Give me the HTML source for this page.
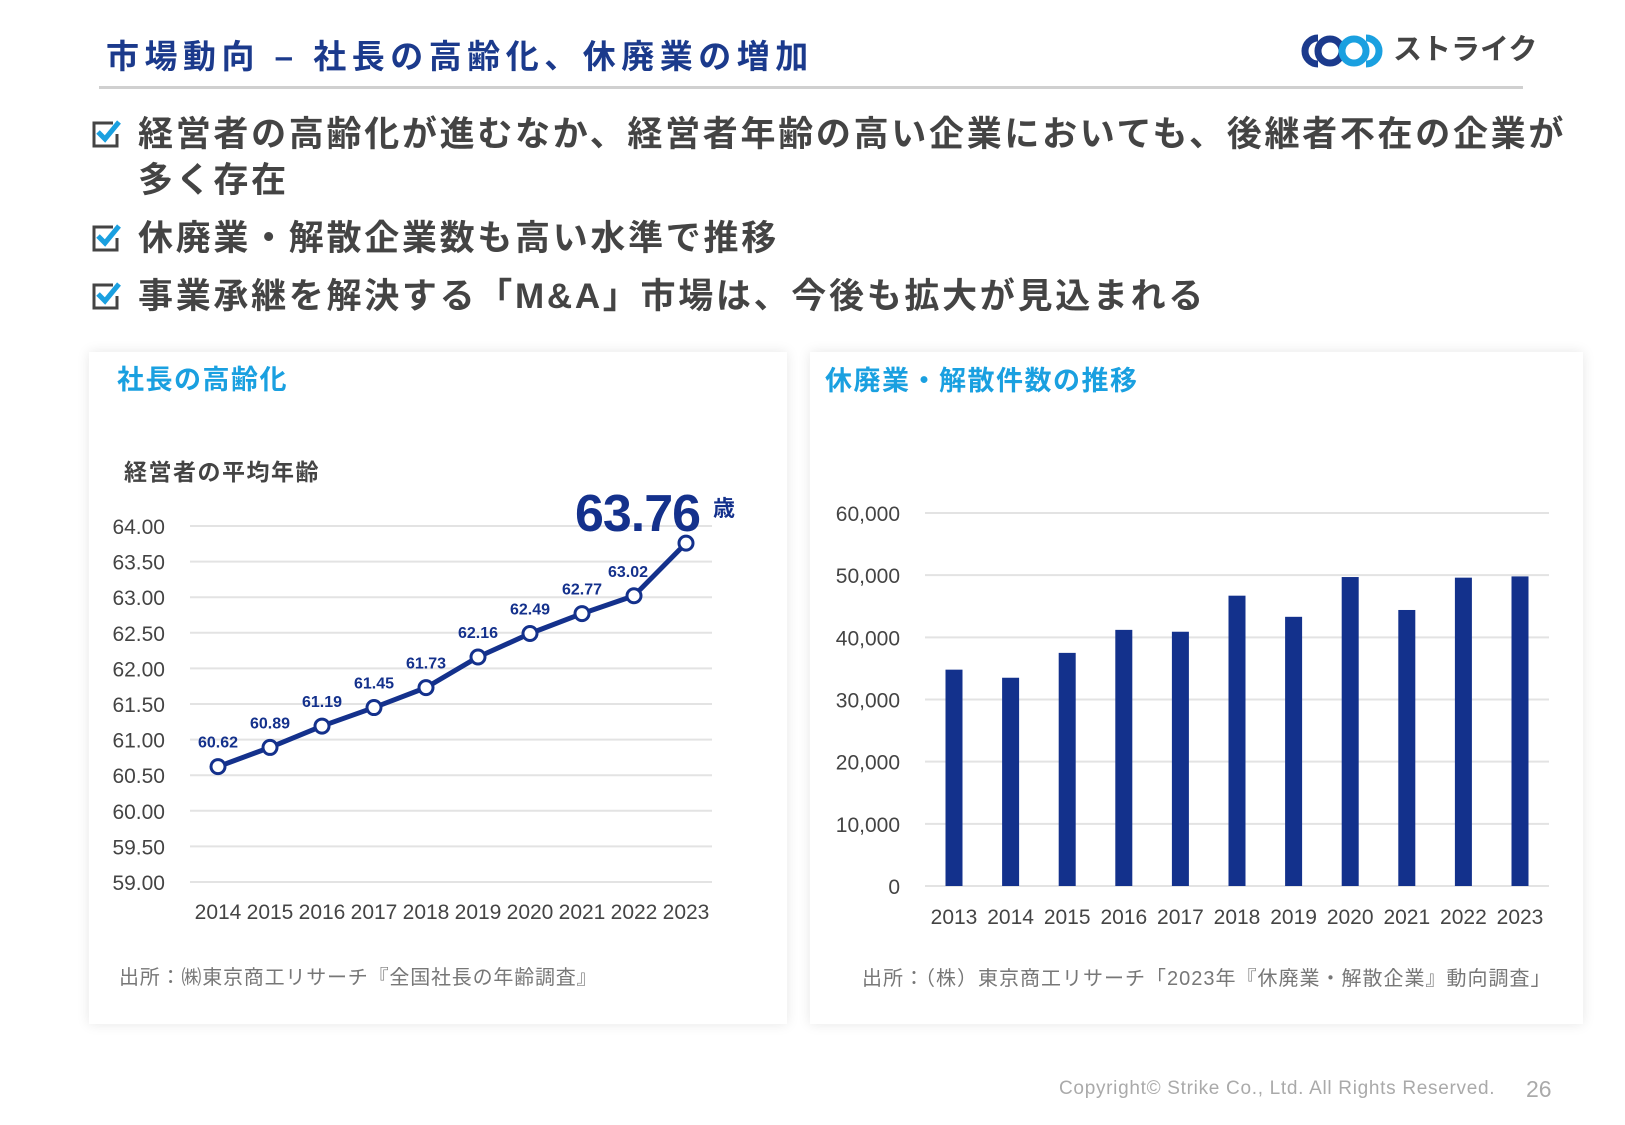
<!DOCTYPE html>
<html lang="ja"><head><meta charset="utf-8">
<style>
*{margin:0;padding:0;box-sizing:border-box}
body{width:1625px;height:1125px;background:#fff;position:relative;overflow:hidden;font-family:"Liberation Sans","Noto Sans CJK JP",sans-serif}
.abs{position:absolute;white-space:nowrap}
.card{position:absolute;background:#fff;box-shadow:0 0 12px rgba(0,0,0,0.10)}
.bul{position:absolute;left:138px;font-size:35px;font-weight:700;color:#444;line-height:46px;letter-spacing:2.7px}
.chk{position:absolute;left:91px;width:30px;height:30px}
</style></head><body>
<div class="abs" style="left:106px;top:35px;font-size:33px;font-weight:700;color:#1b3a8c;line-height:44px;letter-spacing:5.5px">市場動向 – 社長の高齢化、休廃業の増加</div>
<div class="abs" style="left:99px;top:86px;width:1424px;height:3px;background:#d0d0d0"></div>
<svg class="abs" style="left:1296px;top:32px" width="90" height="38" viewBox="0 0 90 38">
<path d="M22 6 A13 13 0 1 0 22 32" fill="none" stroke="#1b3a8c" stroke-width="7"/>
<circle cx="34" cy="19" r="12" fill="none" stroke="#1b3a8c" stroke-width="7"/>
<circle cx="58" cy="19" r="12" fill="none" stroke="#1aa0e0" stroke-width="7"/>
<path d="M70 6 A13 13 0 1 1 70 32" fill="none" stroke="#1aa0e0" stroke-width="7"/>
</svg>
<div class="abs" style="left:1393px;top:31px;font-size:29px;font-weight:700;color:#444;line-height:38px">ストライク</div>

<svg class="chk" style="top:119px" viewBox="0 0 30 30"><path d="M22 4H3V27H26V15" fill="none" stroke="#444" stroke-width="3"/><path d="M7 13L14 20L28 3" fill="none" stroke="#1aa0e0" stroke-width="5"/></svg>
<div class="bul" style="top:112px">経営者の高齢化が進むなか、経営者年齢の高い企業においても、後継者不在の企業が<br>多く存在</div>
<svg class="chk" style="top:223px" viewBox="0 0 30 30"><path d="M22 4H3V27H26V15" fill="none" stroke="#444" stroke-width="3"/><path d="M7 13L14 20L28 3" fill="none" stroke="#1aa0e0" stroke-width="5"/></svg>
<div class="bul" style="top:216px">休廃業・解散企業数も高い水準で推移</div>
<svg class="chk" style="top:281px" viewBox="0 0 30 30"><path d="M22 4H3V27H26V15" fill="none" stroke="#444" stroke-width="3"/><path d="M7 13L14 20L28 3" fill="none" stroke="#1aa0e0" stroke-width="5"/></svg>
<div class="bul" style="top:274px">事業承継を解決する「M&amp;A」市場は、今後も拡大が見込まれる</div>

<div class="card" style="left:89px;top:352px;width:698px;height:672px"></div>
<div class="card" style="left:810px;top:352px;width:773px;height:672px"></div>

<div class="abs" style="left:117px;top:363px;font-size:27px;font-weight:700;color:#1aa0e0;line-height:34px;letter-spacing:1.5px">社長の高齢化</div>
<div class="abs" style="left:124px;top:458px;font-size:23px;font-weight:700;color:#444;line-height:28px;letter-spacing:1.5px">経営者の平均年齢</div>
<div class="abs" style="left:825px;top:364px;font-size:27px;font-weight:700;color:#1aa0e0;line-height:34px;letter-spacing:1.5px">休廃業・解散件数の推移</div>

<svg id="svg" class="abs" style="left:0;top:0" width="1625" height="1125"></svg>

<div class="abs" style="left:119px;top:966px;font-size:20px;color:#777;line-height:24px;letter-spacing:0.8px">出所：㈱東京商工リサーチ『全国社長の年齢調査』</div>
<div class="abs" style="left:862px;top:967px;font-size:20px;color:#777;line-height:24px;letter-spacing:1px">出所：（株）東京商工リサーチ「2023年『休廃業・解散企業』動向調査」</div>
<div class="abs" style="left:1059px;top:1077px;font-size:19px;color:#aaa;line-height:24px;letter-spacing:0.7px">Copyright© Strike Co., Ltd. All Rights Reserved.</div>
<div class="abs" style="left:1526px;top:1075px;font-size:23px;color:#aaa;line-height:28px">26</div>

<script>
const ageYears=["2014","2015","2016","2017","2018","2019","2020","2021","2022","2023"];
const ageValues=[60.62,60.89,61.19,61.45,61.73,62.16,62.49,62.77,63.02,63.76];
const ageTicks=[59,59.5,60,60.5,61,61.5,62,62.5,63,63.5,64];
const barYears=["2013","2014","2015","2016","2017","2018","2019","2020","2021","2022","2023"];
const barValues=[34800,33500,37500,41200,40900,46700,43300,49700,44400,49600,49800];
const barTicks=[0,10000,20000,30000,40000,50000,60000];

const NS="http://www.w3.org/2000/svg";
const svg=document.getElementById('svg');
function mk(tag,attrs,text){const e=document.createElementNS(NS,tag);for(const k in attrs)e.setAttribute(k,attrs[k]);if(text!==undefined)e.textContent=text;svg.appendChild(e);return e;}
const F='"Liberation Sans","Noto Sans CJK JP",sans-serif';

const ay=v=>882-(v-59)/(64-59)*(882-526);
const ax=i=>218+i*(686-218)/(ageYears.length-1);
ageTicks.forEach(t=>{
  let g=mk('line',{x1:190,x2:712,y1:ay(t),y2:ay(t),stroke:'#e3e3e3','stroke-width':2});
  
  
  let l=mk('text',{x:165,y:ay(t)+8,'text-anchor':'end','font-size':21,fill:'#444','font-family':F},t.toFixed(2));
  
  
});
ageYears.forEach((y,i)=>{
  let l=mk('text',{x:ax(i),y:919,'text-anchor':'middle','font-size':21,fill:'#444','font-family':F},y);
  
  
});
let line=mk('polyline',{points:ageValues.map((v,i)=>ax(i)+','+ay(v)).join(' '),fill:'none',stroke:'#14318c','stroke-width':5,'stroke-linejoin':'round'});


ageValues.forEach((v,i)=>{
  let c=mk('circle',{cx:ax(i),cy:ay(v),r:7,fill:'#fff',stroke:'#14318c','stroke-width':3});
  
  
  if(i<ageValues.length-1){
    let t=mk('text',{x:ax(i)-(i===ageValues.length-2?6:0),y:ay(v)-19,'text-anchor':'middle','font-size':16,fill:'#14318c','font-weight':'bold','font-family':F},v.toFixed(2));
    
    
  }
});
const last=ageValues.length-1;
let big=mk('text',{x:ax(last)+15,y:ay(ageValues[last])-12,'text-anchor':'end','font-size':52,fill:'#14318c','font-weight':'bold','font-family':F,textLength:126},ageValues[last].toFixed(2));


let sai=mk('text',{x:ax(last)+27,y:ay(ageValues[last])-27,'font-size':22,fill:'#14318c','font-weight':'bold','font-family':F},'歳');



const by=v=>886-v/60000*(886-513);
const bx=i=>954+i*(1520-954)/(barYears.length-1);
barTicks.forEach(t=>{
  let g=mk('line',{x1:925,x2:1549,y1:by(t),y2:by(t),stroke:'#e3e3e3','stroke-width':2});
  
  
  let l=mk('text',{x:900,y:by(t)+8,'text-anchor':'end','font-size':21,fill:'#444','font-family':F},t.toLocaleString('en-US'));
  
  
});
barValues.forEach((v,i)=>{
  let r=mk('rect',{x:bx(i)-8.5,y:by(v),width:17,height:by(0)-by(v),fill:'#13318c'});
  
  
  let l=mk('text',{x:bx(i),y:924,'text-anchor':'middle','font-size':21,fill:'#444','font-family':F},barYears[i]);
  
  
});
</script>
</body></html>
